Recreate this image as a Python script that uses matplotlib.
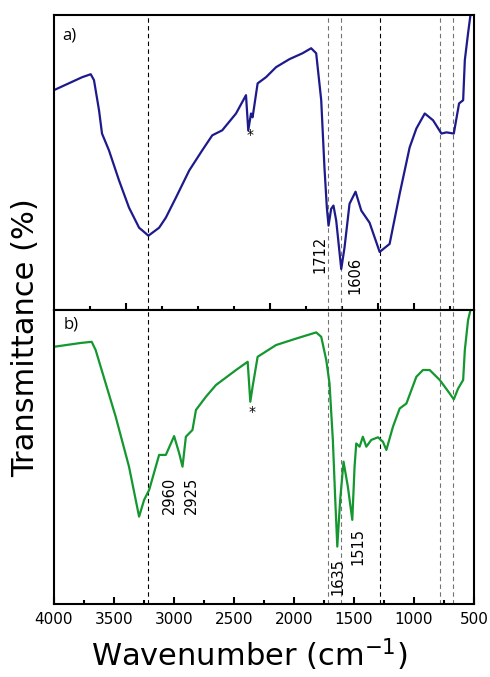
import numpy as np
import matplotlib.pyplot as plt
from matplotlib.ticker import FixedLocator, MultipleLocator

# spectrum a) (wavenumber in cm-1, transmittance in arbitrary units)
wn_a = [4000, 3764, 3693, 3666, 3624, 3599, 3541, 3457, 3374, 3290, 3212,
        3123, 3067, 2983, 2872, 2764, 2680, 2597, 2482, 2399, 2380, 2357,
        2344, 2302, 2232, 2148, 2037, 1928, 1856, 1814, 1772, 1745, 1725,
        1711, 1689, 1670, 1647, 1605, 1578, 1536, 1486, 1438, 1369, 1285,
        1202, 1118, 1035, 979, 909, 840, 770, 728, 667, 623, 589, 575, 548,
        528, 515]
tr_a = [74.5, 78.9, 79.9, 77.9, 67.7, 59.8, 54.1, 43.9, 34.7, 27.9, 25.2,
        27.9, 31.3, 38.1, 47.3, 54.1, 59.2, 60.9, 66.6, 72.8, 60.9, 66.6,
        65.3, 76.8, 78.9, 82.3, 85.0, 87.0, 88.7, 87.0, 71.1, 48.3, 34.7,
        28.6, 34.3, 35.4, 30.3, 13.9, 21.1, 36.0, 40.1, 33.7, 29.6, 19.7,
        22.4, 39.4, 55.1, 61.5, 66.6, 64.3, 59.8, 60.2, 59.8, 70.0, 71.1,
        84.7, 93.8, 100.0, 110.0]

# spectrum b)
wn_b = [4000, 3777, 3685, 3652, 3485, 3374, 3290, 3248, 3206, 3123, 3067,
        2998, 2956, 2928, 2900, 2845, 2816, 2733, 2649, 2482, 2385, 2363,
        2344, 2302, 2148, 1981, 1814, 1772, 1730, 1703, 1675, 1655, 1638,
        1614, 1586, 1550, 1513, 1494, 1480, 1452, 1425, 1396, 1355, 1299,
        1258, 1229, 1174, 1118, 1062, 979, 924, 868, 784, 701, 667, 631,
        589, 575, 548, 528, 515]
tr_b = [87.5, 88.8, 89.2, 86.4, 63.7, 46.7, 29.7, 35.4, 38.8, 50.7, 50.7,
        57.1, 51.3, 46.7, 56.9, 59.2, 66.0, 70.5, 74.5, 79.6, 82.4, 68.8,
        73.9, 84.1, 88.1, 90.3, 92.4, 90.9, 83.0, 75.1, 55.8, 35.4, 19.5,
        35.4, 48.4, 39.9, 28.6, 46.7, 54.6, 53.5, 56.9, 53.5, 55.8, 56.7,
        55.2, 52.4, 60.3, 66.5, 68.2, 77.3, 79.6, 79.6, 76.2, 71.6, 69.6,
        73.3, 76.2, 86.4, 96.6, 100.0, 108.0]

# reference lines
ref_black = [3212, 1285]
ref_grey = [1713, 1605, 778, 672]

# peak labels: (text, wavenumber, transmittance)
labels_a = [("1712", 1786, 19.0), ("1606", 1494, 11.6)]
labels_b = [("2960", 3039, 37.1), ("2925", 2858, 37.1),
            ("1635", 1634, 9.3), ("1515", 1467, 19.5)]
star_a = (2365, 59.2)
star_b = (2352, 65.4)

# the upper panel has its own odd tick set
ticks_a_major = [3400, 2200, 1300, 1000]
ticks_a_minor = [3700, 3100, 2800, 2500, 1900, 1600, 700]

plt.rcParams['font.family'] = 'DejaVu Sans'
plt.rcParams['mathtext.default'] = 'regular'

fig = plt.figure(figsize=(4.9, 6.77), dpi=100)
ax1 = fig.add_axes([0.110, 0.542, 0.857, 0.436])
ax2 = fig.add_axes([0.110, 0.108, 0.857, 0.434])

for ax in (ax1, ax2):
    ax.set_xlim(4000, 500)
    ax.set_ylim(0, 100)
    ax.set_yticks([])
    for s in ax.spines.values():
        s.set_linewidth(1.5)
    for w in ref_black:
        ax.axvline(w, color='black', ls=(0, (4, 3)), lw=0.8)
    for w in ref_grey:
        ax.axvline(w, color='0.45', ls=(0, (4, 3)), lw=0.8)

ax1.plot(wn_a, tr_a, color='#1d1a8c', lw=1.6)
ax2.plot(wn_b, tr_b, color='#14972f', lw=1.6)

ax1.xaxis.set_major_locator(FixedLocator(ticks_a_major))
ax1.xaxis.set_minor_locator(FixedLocator(ticks_a_minor))
ax1.tick_params(axis='x', which='both', direction='in', labelbottom=False, width=1.5)
ax1.tick_params(axis='x', which='major', length=5)
ax1.tick_params(axis='x', which='minor', length=3)

ax2.xaxis.set_major_locator(MultipleLocator(500))
ax2.xaxis.set_minor_locator(MultipleLocator(250))
ax2.tick_params(axis='x', which='both', direction='in', width=1.5, labelsize=11, pad=6)
ax2.tick_params(axis='x', which='major', length=5)
ax2.tick_params(axis='x', which='minor', length=3)

for txt, w, t in labels_a:
    ax1.text(w, t, txt, rotation=90, ha='center', va='center', fontsize=10.5)
for txt, w, t in labels_b:
    ax2.text(w, t, txt, rotation=90, ha='center', va='center', fontsize=10.5)
ax1.text(star_a[0], star_a[1], '*', ha='center', va='center', fontsize=10)
ax2.text(star_b[0], star_b[1], '*', ha='center', va='center', fontsize=10)

ax1.text(0.021, 0.93, 'a)', transform=ax1.transAxes, ha='left', va='center',
         fontsize=12, family='Open Sans')
ax2.text(0.024, 0.95, 'b)', transform=ax2.transAxes, ha='left', va='center',
         fontsize=12, family='Open Sans')

fig.text(0.053, 0.502, 'Transmittance (%)', rotation=90, ha='center', va='center', fontsize=22)
fig.text(0.508, 0.016, 'Wavenumber (cm$^{-1}$)', ha='center', va='baseline', fontsize=22)

fig.savefig('out.png', dpi=100)
